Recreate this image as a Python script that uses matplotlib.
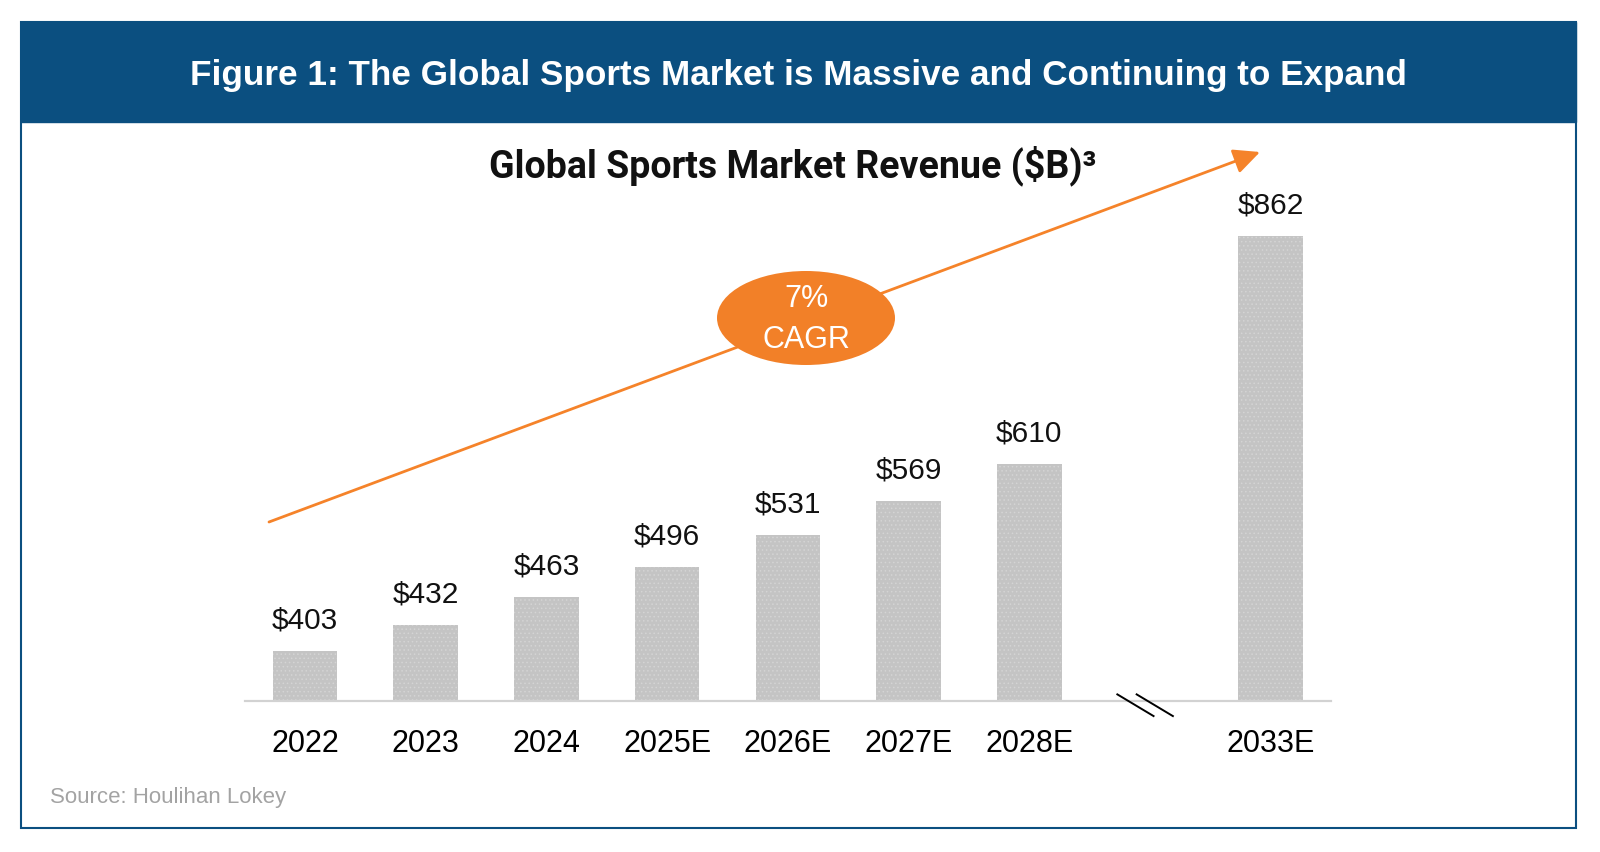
import matplotlib.pyplot as plt
from matplotlib.patches import Rectangle, Ellipse, FancyArrowPatch

# Chart data
years = ['2022', '2023', '2024', '2025E', '2026E', '2027E', '2028E', '2033E']
revenue = [403, 432, 463, 496, 531, 569, 610, 862]
# slot 7 is left empty for the axis break
slots = [0, 1, 2, 3, 4, 5, 6, 8]
break_slot = 7

W, H = 1600, 853
NAVY = '#0b4f80'
ORANGE = '#f5832a'
BAR = '#c4c4c4'


def fx(px):
    return px / W


def fy(py):
    # pixel measured from top -> figure fraction
    return 1 - py / H


fig = plt.figure(figsize=(W / 100, H / 100), dpi=100)
plt.rcParams['hatch.linewidth'] = 0.6

# Frame and header band
fig.patches.append(Rectangle((fx(21), fy(829)), (1576 - 21) / W, (829 - 23) / H,
                             transform=fig.transFigure, fill=False,
                             edgecolor=NAVY, lw=1.5, zorder=0))
fig.patches.append(Rectangle((fx(21), fy(123)), (1576 - 21) / W, 100 / H,
                             transform=fig.transFigure, facecolor=NAVY,
                             edgecolor=NAVY, zorder=0))
fig.text(fx(798), fy(75), 'Figure 1: The Global Sports Market is Massive and Continuing to Expand',
         ha='center', va='center', color='white', fontsize=25.3,
         fontweight='bold', family='Liberation Sans')

# Chart title
fig.text(fx(793), fy(177), 'Global Sports Market Revenue ($B)\u00b3',
         ha='center', va='baseline', fontsize=27, fontweight='bold',
         family='Roboto', color='#111111')

# Bars
ax = fig.add_axes([244.6 / W, 151.3 / H, (1331 - 244.6) / W, (650.3 - 151.3) / H])
ax.bar(slots, revenue, width=0.535, color=BAR, edgecolor='#d4d4d4',
       linewidth=0, hatch='....', zorder=2)
ax.set_xlim(-0.5, 8.5)
ax.set_ylim(348, 900)
for s in ['top', 'left', 'right']:
    ax.spines[s].set_visible(False)
ax.spines['bottom'].set_color('#d2d2d2')
ax.spines['bottom'].set_linewidth(1.6)
ax.set_yticks([])
ax.set_xticks(slots, years)
ax.tick_params(axis='x', length=0, pad=20, labelsize=22)
for lab in ax.get_xticklabels():
    lab.set_family('Liberation Sans')

for x, v in zip(slots, revenue):
    ax.annotate(f'${v}', (x, v), xytext=(0, 17), textcoords='offset points',
                ha='center', va='baseline', fontsize=21.5,
                family='Liberation Sans', color='#111111')

# Axis break marks
for dx in (-0.12, 0.04):
    ax.plot([break_slot + dx - 0.15, break_slot + dx + 0.15], [355, 331],
            color='black', lw=1.4, clip_on=False, zorder=3)

# Growth arrow and CAGR bubble
arrow = FancyArrowPatch((fx(269), fy(523)), (fx(1260), fy(153)),
                        transform=fig.transFigure,
                        arrowstyle='-|>,head_length=0.8,head_width=0.38',
                        mutation_scale=20, color=ORANGE, lw=2,
                        shrinkA=0, shrinkB=0, zorder=4)
fig.patches.append(arrow)
fig.patches.append(Ellipse((fx(806), fy(319)), 178 / W, 94 / H,
                           transform=fig.transFigure, facecolor='#f28028',
                           edgecolor='none', zorder=5))
fig.text(fx(806), fy(299), '7%', ha='center', va='center', color='white',
         fontsize=22, family='Liberation Sans', zorder=6)
fig.text(fx(806), fy(340), 'CAGR', ha='center', va='center', color='white',
         fontsize=22, family='Liberation Sans', zorder=6)

# Source note
fig.text(fx(50), fy(798), 'Source: Houlihan Lokey', ha='left', va='center',
         color='#a3a3a3', fontsize=16, family='Liberation Sans')

fig.savefig('out.png', dpi=100)
